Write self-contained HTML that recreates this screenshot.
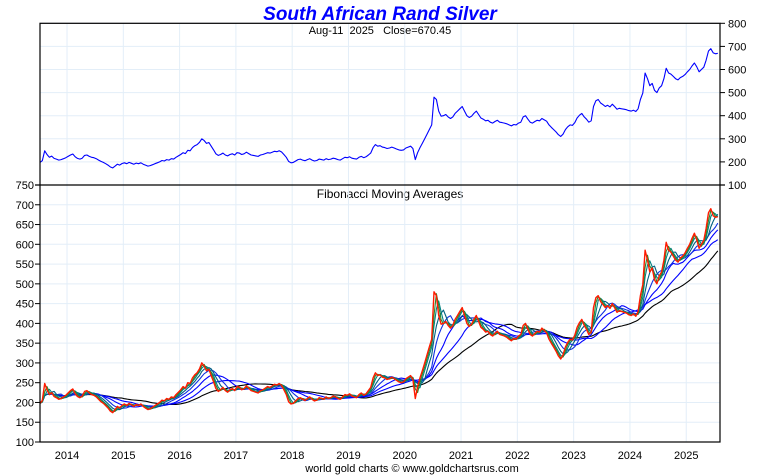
<!DOCTYPE html>
<html><head><meta charset="utf-8">
<style>
html,body{margin:0;padding:0;background:#fff;}
svg{display:block;font-family:"Liberation Sans",Arial,sans-serif;}
</style></head>
<body>
<svg id="chart" width="760" height="475" viewBox="0 0 760 475" xmlns="http://www.w3.org/2000/svg">
<text x="380" y="20" text-anchor="middle" font-size="19" font-weight="bold" font-style="italic" fill="#0000ff">South African Rand Silver</text>
<text x="380" y="34" text-anchor="middle" font-size="11" fill="#000" xml:space="preserve">Aug-11  2025   Close=670.45</text>
<text x="390" y="198" text-anchor="middle" font-size="12" fill="#000">Fibonacci Moving Averages</text>
<text x="412" y="472" text-anchor="middle" font-size="11" fill="#000">world gold charts © www.goldchartsrus.com</text>
<g id="grid"></g>
<g id="marks"></g>
<g id="axes"></g>
</svg>
<script>
const startYear = 2013.52;
const stepsPerYear = 24;
const prices = [
198,205,248,232,220,225,215,212,208,210,214,
218,224,230,234,222,215,212,216,228,230,224,220,218,214,208,202,198,192,186,178,174,182,190,186,
193,196,192,198,194,190,195,192,196,190,186,182,184,188,192,196,200,206,204,210,208,214,212,220,
226,232,240,236,250,248,262,270,275,285,300,292,280,284,268,252,235,228,232,238,230,226,232,235,
230,240,238,232,235,242,236,230,228,226,224,230,232,236,240,238,242,246,244,248,243,232,220,202,
196,198,204,210,212,208,205,210,214,208,204,206,212,210,208,214,210,212,216,214,210,208,214,220,
218,222,216,214,212,220,224,218,222,230,238,262,275,268,270,264,262,258,260,264,260,256,252,250,
252,260,264,268,258,210,240,262,280,300,320,340,360,480,470,420,398,400,405,395,388,395,410,420,
430,440,420,400,392,398,410,420,405,390,385,378,380,372,368,375,380,372,370,368,365,360,356,362,
360,368,372,395,400,385,372,368,375,380,378,388,382,376,360,350,340,330,318,310,320,340,352,360,
358,370,390,402,410,395,385,372,378,440,465,470,455,448,440,445,438,450,440,428,432,430,428,426,
422,420,424,418,430,470,498,585,560,530,540,510,500,520,530,560,605,585,580,570,560,555,565,570,
578,590,600,615,628,612,590,600,610,640,680,690,672,668,670
];
const maPeriods = [34,21,13,8,5,3,2];
const maColors = ["#000000","#0000ff","#0000ff","#1030e0","#006080","#008080","#2a8a2a"];
const years = [2014,2015,2016,2017,2018,2019,2020,2021,2022,2023,2024,2025];
const topTicks = [100,200,300,400,500,600,700,800];
const botTicks = [100,150,200,250,300,350,400,450,500,550,600,650,700,750];

const X0=40,X1=720,T0=23.3,T1=185,B0=185,B1=442;
const xMin=2013.52,xMax=2025.6;
const xs = t => X0+(t-xMin)/(xMax-xMin)*(X1-X0);
const yTop = v => T1-(v-100)/(800-100)*(T1-T0);
const yBot = v => B1-(v-100)/(750-100)*(B1-B0);
const NS="http://www.w3.org/2000/svg";
function mk(tag,parent,attrs){const e=document.createElementNS(NS,tag);for(const k in attrs)e.setAttribute(k,attrs[k]);parent.appendChild(e);return e;}
const grid=document.getElementById('grid'),marks=document.getElementById('marks'),axes=document.getElementById('axes');

topTicks.forEach(v=>{const l=mk('line',grid,{x1:X0,x2:X1,y1:yTop(v),y2:yTop(v),stroke:'#e3eef8','stroke-width':1});

});
botTicks.forEach(v=>{const l=mk('line',grid,{x1:X0,x2:X1,y1:yBot(v),y2:yBot(v),stroke:'#e3eef8','stroke-width':1});

});
years.forEach(y=>{const l=mk('line',grid,{x1:xs(y),x2:xs(y),y1:T0,y2:B1,stroke:'#e3eef8','stroke-width':1});

});

const tOf = i => startYear + i/stepsPerYear;
function pts(arr,yf){return arr.map((v,i)=>xs(tOf(i)).toFixed(1)+','+yf(v).toFixed(1)).join(' ');}

const tl=mk('polyline',marks,{points:pts(prices,yTop),fill:'none',stroke:'#0000ff','stroke-width':1.1,'stroke-linejoin':'round'});



function ma(p){return prices.map((_,i)=>{const s=Math.max(0,i-p+1);let sum=0;for(let j=s;j<=i;j++)sum+=prices[j];return sum/(i-s+1);});}
maPeriods.forEach((p,k)=>{const l=mk('polyline',marks,{points:pts(ma(p),yBot),fill:'none',stroke:maColors[k],'stroke-width':1.1,'stroke-linejoin':'round'});

});
const rl=mk('polyline',marks,{points:pts(prices,yBot),fill:'none',stroke:'#ff1a00','stroke-width':1.4,'stroke-linejoin':'round'});



const fr=mk('rect',axes,{x:X0,y:T0,width:X1-X0,height:B1-T0,fill:'none',stroke:'#000','stroke-width':1.2});


const sep=mk('line',axes,{x1:X0-5,x2:X1+5,y1:185,y2:185,stroke:'#000','stroke-width':1.2});



topTicks.forEach(v=>{const y=yTop(v);
const t=mk('line',axes,{x1:X1,x2:X1+5,y1:y,y2:y,stroke:'#000'});


const tx=mk('text',axes,{x:X1+8,y:y+4,'font-size':11,fill:'#000'});tx.textContent=v;

});
botTicks.forEach(v=>{const y=yBot(v);
const t=mk('line',axes,{x1:X0-5,x2:X0,y1:y,y2:y,stroke:'#000'});


const tx=mk('text',axes,{x:X0-6,y:y+4,'font-size':11,fill:'#000','text-anchor':'end'});tx.textContent=v;

});
years.forEach(yr=>{const x=xs(yr);
const tx=mk('text',axes,{x:x,y:459,'font-size':11,fill:'#000','text-anchor':'middle'});tx.textContent=yr;

});
</script>
</body></html>
